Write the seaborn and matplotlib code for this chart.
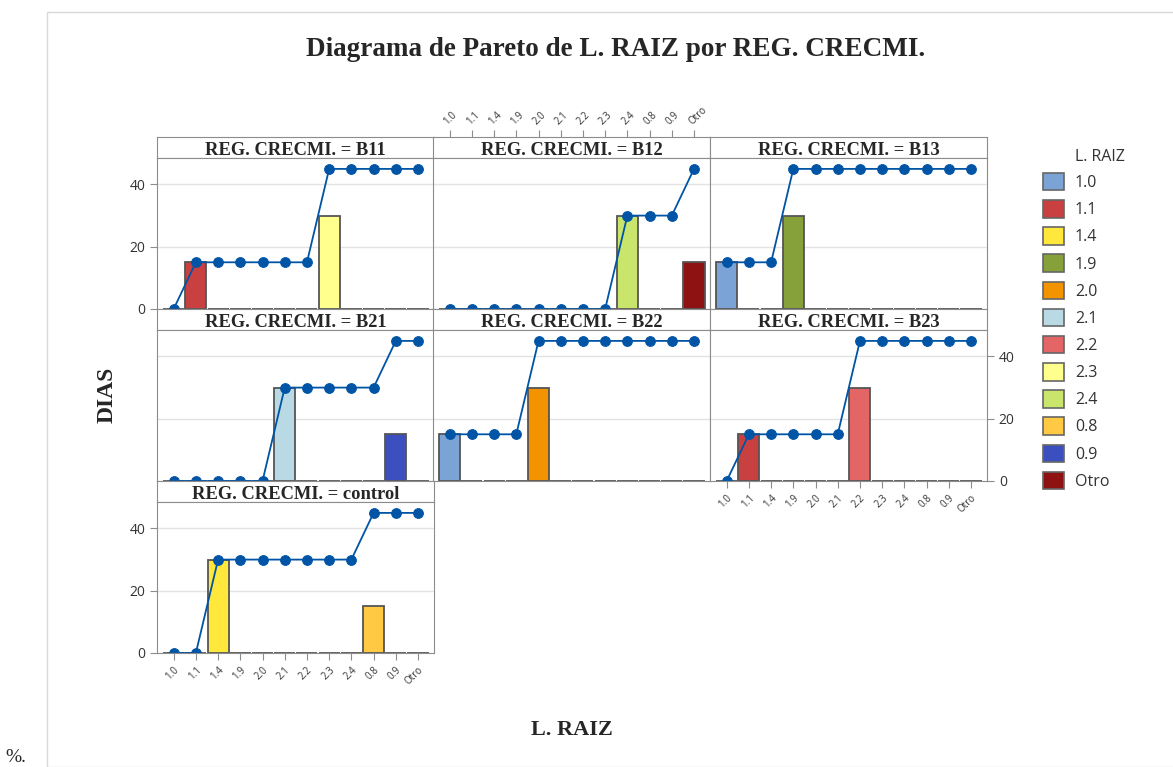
import numpy as np
import pandas as pd
import matplotlib
matplotlib.use('Agg')
import matplotlib.pyplot as plt
from matplotlib.patches import Rectangle, Patch
import seaborn as sns

# datos
categorias = ['1.0', '1.1', '1.4', '1.9', '2.0', '2.1', '2.2', '2.3', '2.4', '0.8', '0.9', 'Otro']
colores = ['#7BA3D6', '#C8403F', '#FFE73C', '#86A03A', '#F39300', '#B9DAE4',
           '#E46566', '#FFFF8E', '#C9E56B', '#FFC943', '#3B4FBF', '#8E1212']
grupos = ['B11', 'B12', 'B13', 'B21', 'B22', 'B23', 'control']

dias_b11 = [0, 15, 0, 0, 0, 0, 0, 30, 0, 0, 0, 0]
dias_b12 = [0, 0, 0, 0, 0, 0, 0, 0, 30, 0, 0, 15]
dias_b13 = [15, 0, 0, 30, 0, 0, 0, 0, 0, 0, 0, 0]
dias_b21 = [0, 0, 0, 0, 0, 30, 0, 0, 0, 0, 15, 0]
dias_b22 = [15, 0, 0, 0, 30, 0, 0, 0, 0, 0, 0, 0]
dias_b23 = [0, 15, 0, 0, 0, 0, 30, 0, 0, 0, 0, 0]
dias_control = [0, 0, 30, 0, 0, 0, 0, 0, 0, 15, 0, 0]

dias = [dias_b11, dias_b12, dias_b13, dias_b21, dias_b22, dias_b23, dias_control]
paleta = dict(zip(categorias, colores))

sns.set_style('white')
plt.rcParams['font.family'] = ['Open Sans', 'DejaVu Sans']
SERIF = ['Liberation Serif', 'DejaVu Serif']
GRIS = '#8C8C8C'
AZUL = '#0054A6'

W, H = 1173, 767
fig = plt.figure(figsize=(W / 100, H / 100), dpi=100)


def caja(x, y, w, h):
    # pixeles (desde arriba) -> fraccion de figura
    return [x / W, 1 - (y + h) / H, w / W, h / H]


col_izq = [157, 433, 710]
fila_top = [137, 309, 481]
alto_tira = 21
alto_graf = 151
ancho = 277
xlim = (-0.75, 11.72)
ylim = (0, 48.5)

for i, (grupo, vals) in enumerate(zip(grupos, dias)):
    fila, col = divmod(i, 3)
    x0 = col_izq[col]
    y0 = fila_top[fila]

    # tira con el nombre del panel
    ax_t = fig.add_axes(caja(x0, y0, ancho, alto_tira))
    ax_t.set_xlim(xlim)
    ax_t.set_ylim(0, 1)
    ax_t.set_yticks([])
    ax_t.text(0.5, 0.36, f'REG. CRECMI. = {grupo}', transform=ax_t.transAxes,
              ha='center', va='center', fontsize=13.3, fontweight='bold', family=SERIF)
    for s in ax_t.spines.values():
        s.set_color(GRIS)
    if i == 1:
        ax_t.xaxis.tick_top()
        ax_t.set_xticks(range(len(categorias)))
        ax_t.set_xticklabels(categorias, rotation=45, ha='left', va='bottom',
                             rotation_mode='anchor', fontsize=7, color='#333333')
        ax_t.tick_params(axis='x', direction='out', length=5, color=GRIS, pad=2)
    else:
        ax_t.set_xticks([])

    # panel
    ax = fig.add_axes(caja(x0, y0 + alto_tira, ancho, alto_graf))
    df = pd.DataFrame({'L. RAIZ': categorias, 'DIAS': vals})
    df['acum'] = np.cumsum(df['DIAS'])
    for yv in [20, 40]:
        ax.axhline(yv, color='#E3E3E3', lw=1, zorder=0)
    sns.barplot(data=df, x='L. RAIZ', y='DIAS', hue='L. RAIZ', order=categorias,
                hue_order=categorias, palette=paleta, dodge=False, legend=False,
                width=0.95, saturation=1, edgecolor='#555555', linewidth=1.3, ax=ax)
    sns.lineplot(x=np.arange(len(categorias)), y=df['acum'].values, color=AZUL,
                 marker='o', markersize=7, markeredgecolor=AZUL, lw=1.3, ax=ax)
    ax.set_xlim(xlim)
    ax.set_ylim(ylim)
    ax.set_xlabel('')
    ax.set_ylabel('')
    ax.set_xticks(range(len(categorias)))
    ax.set_yticks([0, 20, 40])
    for s in ax.spines.values():
        s.set_color(GRIS)
    ax.tick_params(direction='out', length=5, color=GRIS, labelsize=10,
                   labelcolor='#333333', left=False, labelleft=False,
                   bottom=False, labelbottom=False)
    if i in (0, 6):
        ax.tick_params(axis='y', left=True, labelleft=True)
    if i == 5:
        ax.tick_params(axis='y', right=True, labelright=True)
    if i in (5, 6):
        ax.tick_params(axis='x', bottom=True, labelbottom=True)
        ax.set_xticklabels(categorias, rotation=45, ha='right', va='top',
                           rotation_mode='anchor', fontsize=7, color='#333333')

# textos generales
fig.text(616 / W, 1 - 50 / H, 'Diagrama de Pareto de L. RAIZ por REG. CRECMI.',
         ha='center', va='center', fontsize=19.5, fontweight='bold', family=SERIF)
fig.text(107 / W, 1 - 395 / H, 'DIAS', rotation=90, ha='center', va='center',
         fontsize=17, fontweight='bold', family=SERIF)
fig.text(572 / W, 1 - 730 / H, 'L. RAIZ', ha='center', va='center',
         fontsize=16, fontweight='bold', family=SERIF)

# leyenda
fig.text(1075 / W, 1 - 157 / H, 'L. RAIZ', ha='left', va='center', fontsize=11.5,
         color='#333333')
manejadores = [Patch(facecolor=c, edgecolor='#666666', linewidth=1.2, label=k)
               for k, c in zip(categorias, colores)]
fig.legend(handles=manejadores, loc='upper left', bbox_to_anchor=(1043 / W, 1 - 173 / H),
           frameon=False, fontsize=11.5, handlelength=1.3, handleheight=1.3,
           handletextpad=0.7, labelspacing=0.57, borderaxespad=0, borderpad=0,
           labelcolor='#333333')

# marco del documento
fig.patches.append(Rectangle((47 / W, 0), 1, 1 - 12 / H, transform=fig.transFigure,
                             fill=False, edgecolor='#D9D9D9', lw=1))
fig.text(5 / W, 1 - 757 / H, '%.', ha='left', va='center', fontsize=14, family=SERIF)

fig.savefig('out.png', dpi=100)
